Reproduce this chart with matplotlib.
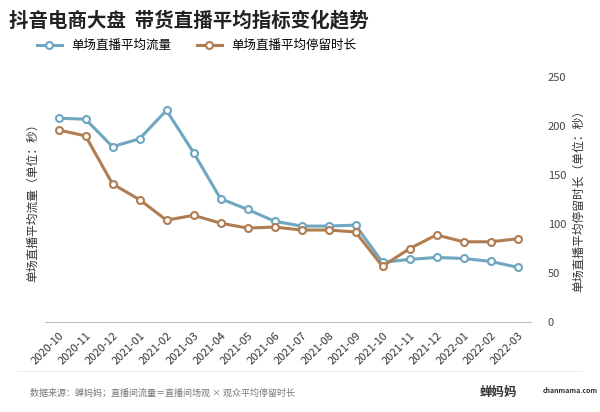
import matplotlib as mpl
mpl.use('Agg')
import matplotlib.pyplot as plt

plt.rcParams['font.family'] = ['Noto Sans CJK SC', 'DejaVu Sans']

months = ['2020-10', '2020-11', '2020-12', '2021-01', '2021-02', '2021-03', '2021-04',
          '2021-05', '2021-06', '2021-07', '2021-08', '2021-09', '2021-10', '2021-11',
          '2021-12', '2022-01', '2022-02', '2022-03']
traffic = [208, 207, 179, 187, 216, 173, 126, 115, 103, 98, 98, 99, 61, 64, 66, 65, 62, 56]
stay = [196, 190, 141, 125, 104, 109, 101, 96, 97, 94, 94, 92, 57, 75, 89, 82, 82, 85]

blue = '#6fa6c0'
brown = '#b07d52'

fig = plt.figure(figsize=(6, 4.12), dpi=100)
ax = fig.add_axes([0.075, 0.218, 0.81, 0.595])
x = range(len(months))
ax.plot(x, traffic, color=blue, lw=2.2, marker='o', ms=5, mfc='white', mec=blue, mew=1.5,
        label='单场直播平均流量')
ax.plot(x, stay, color=brown, lw=2.2, marker='o', ms=5, mfc='white', mec=brown, mew=1.5,
        label='单场直播平均停留时长')
ax.set_ylim(0, 250)
ax.set_xlim(-0.5, len(months) - 0.5)
ax.yaxis.tick_right()
ax.set_yticks([0, 50, 100, 150, 200, 250])
ax.tick_params(axis='y', length=0, labelsize=8, colors='#444444', pad=12)
ax.set_xticks(list(x))
ax.set_xticklabels(months, rotation=45, ha='right', rotation_mode='anchor', fontsize=8,
                   color='#333333')
ax.tick_params(axis='x', length=0, pad=6)
for s in ['top', 'left', 'right']:
    ax.spines[s].set_visible(False)
ax.spines['bottom'].set_color('#bbbbbb')
ax.set_ylabel('单场直播平均流量（单位：秒）', fontsize=8.5, color='#333333')
ax.yaxis.set_label_position('left')
fig.text(0.965, 0.52, '单场直播平均停留时长（单位：秒）', rotation=90, fontsize=8.5,
         color='#333333', ha='center', va='center')
ax.legend(loc='upper left', bbox_to_anchor=(-0.04, 1.2), ncol=2, frameon=False, fontsize=9)

fig.text(0.015, 0.935, '抖音电商大盘  带货直播平均指标变化趋势', fontsize=14, fontweight='bold',
         color='#222222')
fig.text(0.05, 0.04, '数据来源：蝉妈妈；直播间流量＝直播间场观 × 观众平均停留时长', fontsize=6.5,
         color='#777777')
fig.text(0.8, 0.04, '蝉妈妈', fontsize=9, color='#333333', fontweight='bold')
fig.text(0.905, 0.045, 'chanmama.com', fontsize=5, color='#333333', fontweight='bold')
fig.add_artist(plt.Line2D([0.03, 0.97], [0.1, 0.1], color='#eeeeee', lw=0.8))

fig.savefig('out.png')
